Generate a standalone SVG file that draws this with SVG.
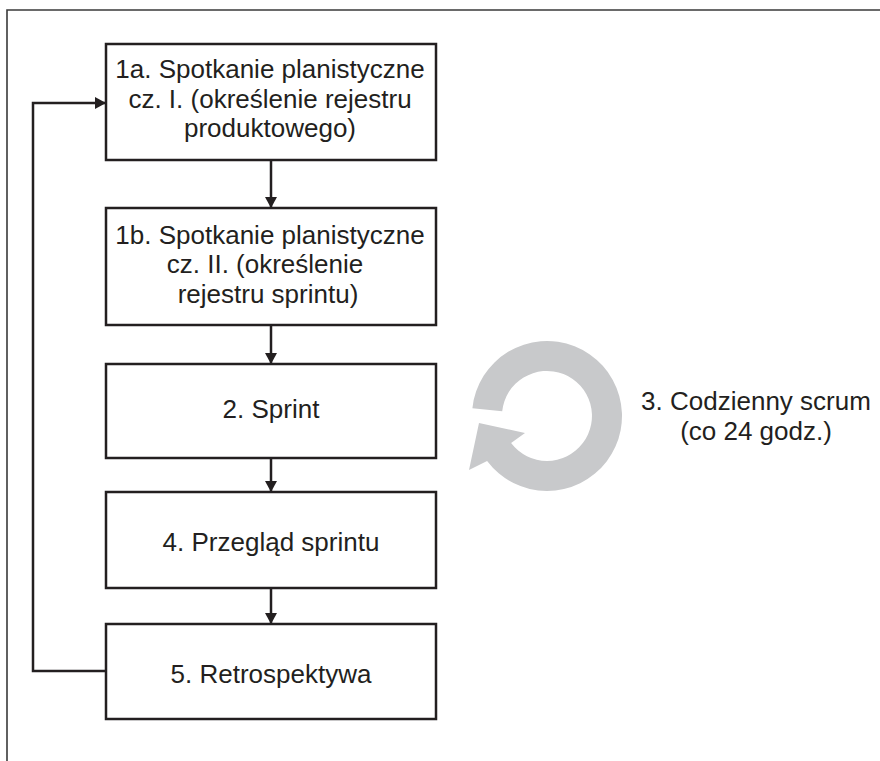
<svg xmlns="http://www.w3.org/2000/svg" width="880" height="761" viewBox="0 0 880 761">
<style>
.box{fill:#fff;stroke:#231f20;stroke-width:2.5}
.lbl{font-family:"Liberation Sans",Arial,sans-serif;font-size:26px;fill:#231f20;text-anchor:middle}
.conn{fill:none;stroke:#231f20;stroke-width:2.5}
</style>
<defs>
<marker id="ah" markerUnits="userSpaceOnUse" markerWidth="11" markerHeight="12" refX="11" refY="6" orient="auto">
<path d="M0,0 L11,6 L0,12 z" fill="#231f20"/>
</marker>
</defs>
<rect width="880" height="761" fill="#fff"/>
<path d="M7,761 V10 H880" fill="none" stroke="#3a3a3a" stroke-width="1.6"/>
<g id="n1a">
<rect class="box" x="106" y="44" width="330" height="116"/>
<text class="lbl" x="270" y="78">1a. Spotkanie planistyczne</text>
<text class="lbl" x="270" y="108">cz. I. (określenie rejestru</text>
<text class="lbl" x="270" y="137">produktowego)</text>
</g>
<g id="n1b">
<rect class="box" x="106" y="208" width="330" height="117"/>
<text class="lbl" x="270" y="244">1b. Spotkanie planistyczne</text>
<text class="lbl" x="265" y="273">cz. II. (określenie</text>
<text class="lbl" x="268" y="303">rejestru sprintu)</text>
</g>
<g id="n2">
<rect class="box" x="106" y="364" width="330" height="94"/>
<text class="lbl" x="271" y="418">2. Sprint</text>
</g>
<g id="n4">
<rect class="box" x="106" y="492" width="330" height="96"/>
<text class="lbl" x="271" y="551">4. Przegląd sprintu</text>
</g>
<g id="n5">
<rect class="box" x="106" y="624" width="330" height="95"/>
<text class="lbl" x="271" y="683">5. Retrospektywa</text>
</g>
<g id="n3">
<path d="M472.4,408.2 A75,75 0 1 1 487.1,461.1 L469,470 L479,423 L525,433 L511.1,443.1 A45,45 0 1 0 502.2,411.3 Z" fill="#c8c9cb"/>
<text class="lbl" x="756" y="410">3. Codzienny scrum</text>
<text class="lbl" x="756" y="440">(co 24 godz.)</text>
</g>
<g id="connectors">
<line class="conn" x1="271" y1="160" x2="271" y2="208" marker-end="url(#ah)"/>
<line class="conn" x1="271" y1="325" x2="271" y2="364" marker-end="url(#ah)"/>
<line class="conn" x1="271" y1="458" x2="271" y2="492" marker-end="url(#ah)"/>
<line class="conn" x1="271" y1="588" x2="271" y2="624" marker-end="url(#ah)"/>
<path class="conn" d="M106,671 H33 V103 H106" marker-end="url(#ah)"/>
</g>
</svg>
